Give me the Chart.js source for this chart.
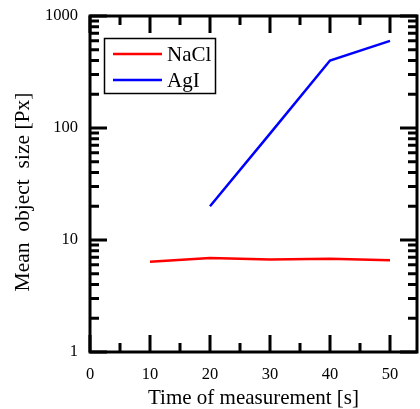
<!DOCTYPE html>
<html lang="en">
<head>
  <meta charset="UTF-8" />
  <title>Mean object size</title>
  <script src="https://cdn.jsdelivr.net/npm/chart.js"></script>
  <style>
    html, body { margin: 0; padding: 0; background: #fff; }
    #wrap { width: 420px; height: 409px; position: relative; }
  </style>
</head>
<body>
  <div id="wrap"><canvas id="sizeChart"></canvas></div>

  <script>
    // data
    const times = [10, 20, 30, 40, 50];
    const naclSize = [6.4, 6.9, 6.7, 6.8, 6.6];
    const agiSize = [null, 20, 89, 400, 600];
    const xTicks = [0, 10, 20, 30, 40, 50];
    const xMinorTicks = [5, 15, 25, 35, 45];
    const yTicks = [1, 10, 100, 1000];
    const yMinorTicks = [2, 3, 4, 5, 6, 7, 8, 9, 20, 30, 40, 50, 60, 70, 80, 90, 200, 300, 400, 500, 600, 700, 800, 900];

    const serif = '"Liberation Serif", "Times New Roman", serif';

    // frame, inward ticks on all sides, legend box and y title
    const framePlugin = {
      id: 'frame',
      afterDraw(chart) {
        const { ctx, chartArea: a, scales } = chart;
        const xs = scales.x, ys = scales.y;
        const major = 17, minor = 9;
        ctx.save();
        ctx.strokeStyle = '#000';
        ctx.lineWidth = 3;
        ctx.lineCap = 'butt';

        ctx.beginPath();
        xTicks.forEach(v => {
          const px = xs.getPixelForValue(v);
          ctx.moveTo(px, a.bottom); ctx.lineTo(px, a.bottom - major);
          ctx.moveTo(px, a.top); ctx.lineTo(px, a.top + major);
        });
        xMinorTicks.forEach(v => {
          const px = xs.getPixelForValue(v);
          ctx.moveTo(px, a.bottom); ctx.lineTo(px, a.bottom - minor);
          ctx.moveTo(px, a.top); ctx.lineTo(px, a.top + minor);
        });
        yTicks.forEach(v => {
          const py = ys.getPixelForValue(v);
          ctx.moveTo(a.left, py); ctx.lineTo(a.left + major, py);
          ctx.moveTo(a.right, py); ctx.lineTo(a.right - major, py);
        });
        yMinorTicks.forEach(v => {
          const py = ys.getPixelForValue(v);
          ctx.moveTo(a.left, py); ctx.lineTo(a.left + minor, py);
          ctx.moveTo(a.right, py); ctx.lineTo(a.right - minor, py);
        });
        ctx.stroke();

        ctx.lineJoin = 'miter';
        ctx.strokeRect(a.left, a.top, a.right - a.left, a.bottom - a.top);

        // legend
        ctx.lineWidth = 1.5;
        ctx.strokeRect(104.5, 38.5, 111, 55);
        ctx.font = '21px ' + serif;
        ctx.textBaseline = 'middle';
        ctx.fillStyle = '#000';
        chart.data.datasets.forEach((ds, i) => {
          const y = 54 + i * 26;
          ctx.strokeStyle = ds.borderColor;
          ctx.lineWidth = 2.5;
          ctx.beginPath();
          ctx.moveTo(113, y); ctx.lineTo(162, y);
          ctx.stroke();
          ctx.fillText(ds.label, 167, y + 1);
        });

        // y axis title
        ctx.translate(23, 192);
        ctx.rotate(-Math.PI / 2);
        ctx.textAlign = 'center';
        ctx.font = '21.5px ' + serif;
        ctx.fillText('Mean  object  size [Px]', 0, 0);
        ctx.restore();
      }
    };

    const ctx = document.getElementById('sizeChart').getContext('2d');
    new Chart(ctx, {
      type: 'line',
      data: {
        labels: times,
        datasets: [
          { label: 'NaCl', data: naclSize, borderColor: '#ff0000', borderWidth: 2.5, pointRadius: 0, tension: 0 },
          { label: 'AgI', data: agiSize, borderColor: '#0000ff', borderWidth: 2.5, pointRadius: 0, tension: 0 }
        ]
      },
      options: {
        responsive: true,
        maintainAspectRatio: false,
        animation: false,
        layout: { padding: { top: 16, right: 3, left: 0, bottom: 0 } },
        plugins: { legend: { display: false }, tooltip: { enabled: false } },
        scales: {
          x: {
            type: 'linear',
            min: 0,
            max: 54.5,
            grid: { display: false, drawTicks: false },
            border: { display: false },
            afterBuildTicks: s => { s.ticks = xTicks.map(v => ({ value: v })); },
            afterFit: s => { s.height = 57; s.paddingLeft = 0; s.paddingRight = 0; },
            ticks: { color: '#000', padding: 13, maxRotation: 0, font: { family: serif, size: 16.5 } },
            title: { display: true, text: 'Time of measurement [s]', color: '#000', padding: { top: 0, bottom: -2 }, font: { family: serif, size: 21 } }
          },
          y: {
            type: 'logarithmic',
            min: 1,
            max: 1000,
            grid: { display: false, drawTicks: false },
            border: { display: false },
            afterBuildTicks: s => { s.ticks = yTicks.map(v => ({ value: v })); },
            afterFit: s => { s.width = 90; s.paddingTop = 0; s.paddingBottom = 0; },
            ticks: { color: '#000', padding: 12, font: { family: serif, size: 16.5 }, callback: v => String(v) }
          }
        }
      },
      plugins: [framePlugin]
    });
  </script>
</body>
</html>
